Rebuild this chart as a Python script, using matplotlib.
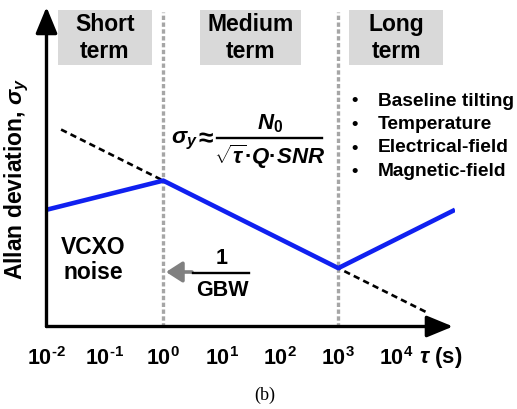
import matplotlib.pyplot as plt
from matplotlib.patches import Rectangle
from matplotlib.lines import Line2D

plt.rcParams['font.family'] = ['Liberation Sans', 'DejaVu Sans']
plt.rcParams['font.weight'] = 'bold'
plt.rcParams['mathtext.fontset'] = 'custom'
plt.rcParams['mathtext.rm'] = 'Liberation Sans:bold'
plt.rcParams['mathtext.it'] = 'Liberation Sans:italic:bold'
plt.rcParams['mathtext.bf'] = 'Liberation Sans:bold'

# sketch values, log10(tau) vs log10(sigma)
log_tau = [-2, 0, 3, 5]
log_sigma = [2.0, 2.5, 1.0, 2.0]
fit_tau = [-1.75, 4.55]
fit_sigma = [3.375, 0.225]
regime_edges = [0, 3]
tick_pos = [-2, -1, 0, 1, 2, 3, 4]
tick_labels = [r'$10^{\text{%d}}$' % p for p in tick_pos]
regimes = ['Short\nterm', 'Medium\nterm', 'Long\nterm']
causes = ['Baseline tilting', 'Temperature', 'Electrical-field', 'Magnetic-field']

W, H = 517, 409
fig = plt.figure(figsize=(W / 100, H / 100), dpi=100)


def px(x, y):
    # pixel position -> figure fraction
    return x / W, 1 - y / H


ax = fig.add_axes([46.5 / W, 1 - 326.5 / H, 408.5 / W, 319.5 / H])
ax.set_xlim(-2, 5)
ax.set_ylim(0, 319.5 / 58.36)
for s in ax.spines.values():
    s.set_visible(False)
ax.set_yticks([])
ax.set_xticks(tick_pos, tick_labels)
ax.tick_params(axis='x', length=0, pad=15, labelsize=15.5)

# regime boundaries
for e in regime_edges:
    ax.axvline(e, ymin=0, ymax=0.985, color='#a6a6a6', lw=2.4, dashes=(1.3, 0.75))

ax.plot(fit_tau, fit_sigma, color='black', lw=1.9, dashes=(2.4, 1.6))
ax.plot(log_tau, log_sigma, color='#1020f0', lw=3.3, solid_capstyle='butt')

# axes arrows
arrow = dict(arrowstyle='-|>,head_length=0.8,head_width=0.33', lw=2.4, color='black',
             mutation_scale=20, shrinkA=0, shrinkB=0)
ax.annotate('', xy=(0, 1), xytext=(0, 0), xycoords='axes fraction', arrowprops=arrow,
            annotation_clip=False)
ax.annotate('', xy=(0.995, 0), xytext=(0, 0), xycoords='axes fraction', arrowprops=arrow,
            annotation_clip=False)

# regime boxes
boxes = [(58, 152), (200, 301), (349, 443)]
for (x0, x1), name in zip(boxes, regimes):
    fig.patches.append(Rectangle(px(x0, 65), (x1 - x0) / W, 55 / H, transform=fig.transFigure,
                                 facecolor='#d9d9d9', edgecolor='none', zorder=0))
    fig.text(*px((x0 + x1) / 2, 38), name, ha='center', va='center', fontsize=16.5,
             linespacing=1.2)

# long-term causes
for i, c in enumerate(causes):
    y = 101 + 23.5 * i
    fig.text(*px(355, y), '•', ha='center', va='center', fontsize=13)
    fig.text(*px(378, y), c, ha='left', va='center', fontsize=13.8)

# formula
fig.text(*px(171, 140), r'$\sigma_y$', ha='left', va='center', fontsize=16.5)
fig.text(*px(206, 139), '≈', ha='center', va='center', fontsize=19)
fig.text(*px(270, 124), r'$N_{\mathit{0}}$', ha='center', va='center', fontsize=16)
fig.text(*px(270, 157), r'$\sqrt{\tau}$·$Q$·$SNR$', ha='center', va='center',
         fontsize=16)
fig.add_artist(Line2D([217 / W, 322 / W], [1 - 138 / H] * 2, color='black', lw=1.7))

# VCXO / GBW notes
fig.text(*px(93, 260), 'VCXO\nnoise', ha='center', va='center', fontsize=16.5, linespacing=1.1)
fig.text(*px(222, 259), '1', ha='center', va='center', fontsize=15.5)
fig.text(*px(222, 291), 'GBW', ha='center', va='center', fontsize=15.5)
fig.add_artist(Line2D([193 / W, 249 / W], [1 - 273 / H] * 2, color='black', lw=1.7))
ax.annotate('', xy=px(166, 272), xytext=px(192, 272), xycoords='figure fraction',
            arrowprops=dict(arrowstyle='-|>,head_length=0.7,head_width=0.45', lw=2.6,
                            color='#808080', mutation_scale=14, shrinkA=0, shrinkB=0),
            annotation_clip=False)

fig.text(*px(17, 179), r'Allan deviation, $\sigma_y$', rotation=90, ha='center', va='center',
         fontsize=16.5)
fig.text(*px(419, 357), r'$\tau$ (s)', ha='left', va='center', fontsize=16)
fig.text(*px(265, 395), '(b)', ha='center', va='center', fontsize=13,
         family='Liberation Serif', weight='normal')

fig.savefig('out.png', dpi=100)
